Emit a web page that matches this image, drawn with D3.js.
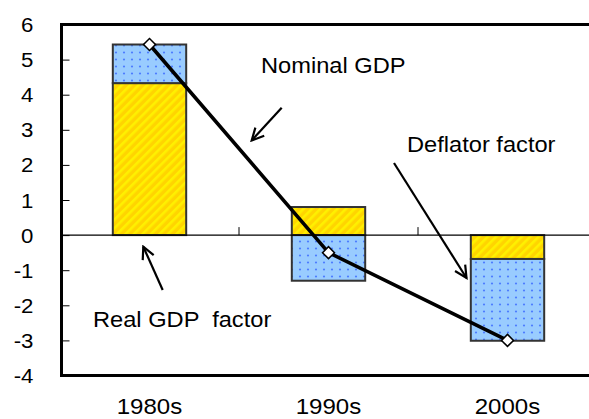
<!DOCTYPE html>
<html><head><meta charset="utf-8">
<script src="https://cdn.jsdelivr.net/npm/d3@7"></script>
<style>
body{margin:0;background:#fff}
svg{display:block}
text{font-family:"Liberation Sans",Arial,sans-serif;fill:#000}
</style>
</head><body><svg id="c" width="589" height="419"></svg>
<script>
// ---- data ----
const categories = ["1980s", "1990s", "2000s"];
const realGDP    = [4.33, 0.80, -0.68];   // Real GDP factor
const deflator   = [1.10, -1.30, -2.33];  // Deflator factor
const nominalGDP = [5.43, -0.50, -3.00];  // Nominal GDP
const yTicks     = [-4, -3, -2, -1, 0, 1, 2, 3, 4, 5, 6];

// ---- layout ----
const svg = d3.select("#c");
const L = 61.5, R = 598, T = 24.5, B = 375.5;
const x = d3.scaleBand().domain(categories).range([60, 597]).padding(0);
const y = d3.scaleLinear().domain([-4, 6]).range([B, T]);
const barW = x.bandwidth() * 0.41;
const cx = c => x(c) + x.bandwidth() / 2;

// ---- patterns ----
const defs = svg.append("defs");
const py = defs.append("pattern").attr("id", "yel").attr("patternUnits", "userSpaceOnUse")
  .attr("width", 6).attr("height", 6).attr("patternTransform", "rotate(45)");
py.append("rect").attr("width", 6).attr("height", 6).attr("fill", "#FFD500");
py.append("rect").attr("x", 1).attr("width", 2.6).attr("height", 6).attr("fill", "#FFF000");
const pb = defs.append("pattern").attr("id", "blu").attr("patternUnits", "userSpaceOnUse")
  .attr("width", 8).attr("height", 7);
pb.append("rect").attr("width", 8).attr("height", 7).attr("fill", "#99CCFF");
pb.append("circle").attr("cx", 4).attr("cy", 3.5).attr("r", 1.1).attr("fill", "#4D7DFF");
defs.append("marker").attr("id", "arr").attr("markerUnits", "userSpaceOnUse")
  .attr("viewBox", "-14 -8 16 16").attr("refX", 0).attr("refY", 0)
  .attr("markerWidth", 16).attr("markerHeight", 16).attr("orient", "auto")
  .append("path").attr("d", "M-12,-6 L0,0 L-12,6").attr("fill", "none")
  .attr("stroke", "#000").attr("stroke-width", 2.2);

// ---- left axis ticks (inward) ----
const ax = svg.append("g").attr("transform", `translate(${L},0)`)
  .call(d3.axisLeft(y).tickValues(yTicks).tickSize(-8).tickFormat(""));
ax.select(".domain").remove();
ax.selectAll("line").attr("stroke", "#000").attr("stroke-width", 1);

// y tick labels
svg.append("g").selectAll("text").data(yTicks).join("text")
  .attr("transform", d => `translate(33.5,${y(d)}) scale(1.06,1)`)
  .attr("text-anchor", "end").attr("dy", "0.36em")
  .style("font-size", "21px").text(d => d);

// ---- stacked bars ----
const rows = categories.map((c, i) => ({ cat: c, real: realGDP[i], defl: deflator[i] }));
const stacked = d3.stack().keys(["real", "defl"]).offset(d3.stackOffsetDiverging)(rows);
const fills = { real: "url(#yel)", defl: "url(#blu)" };
svg.append("g").selectAll("g").data(stacked).join("g")
  .attr("fill", d => fills[d.key])
  .selectAll("rect").data(d => d).join("rect")
  .attr("x", d => cx(d.data.cat) - barW / 2)
  .attr("width", barW)
  .attr("y", d => y(Math.max(d[0], d[1])))
  .attr("height", d => Math.abs(y(d[0]) - y(d[1])))
  .attr("stroke", "#333").attr("stroke-width", 2);

// zero line
svg.append("line").attr("x1", L).attr("x2", 589).attr("y1", y(0)).attr("y2", y(0))
  .attr("stroke", "#000").attr("stroke-width", 1.2);
// category separator ticks
svg.append("g").selectAll("line").data(categories.slice(0, 2)).join("line")
  .attr("x1", c => x(c) + x.bandwidth()).attr("x2", c => x(c) + x.bandwidth())
  .attr("y1", y(0)).attr("y2", y(0) - 8).attr("stroke", "#000").attr("stroke-width", 1);

// ---- frame ----
svg.append("path").attr("d", `M${R},${T} H${L} V${B} H${R}`)
  .attr("fill", "none").attr("stroke", "#000").attr("stroke-width", 3);

// ---- nominal GDP line ----
const line = d3.line().x((d, i) => cx(categories[i])).y(d => y(d));
svg.append("path").attr("d", line(nominalGDP)).attr("fill", "none")
  .attr("stroke", "#000").attr("stroke-width", 3.6);
svg.append("g").selectAll("path").data(nominalGDP).join("path")
  .attr("d", d3.symbol(d3.symbolSquare, 72))
  .attr("transform", (d, i) => `translate(${cx(categories[i])},${y(d)}) rotate(45)`)
  .attr("fill", "#fff").attr("stroke", "#000").attr("stroke-width", 1.5);

// ---- x labels ----
svg.append("g").selectAll("text").data(categories).join("text")
  .attr("transform", c => `translate(${cx(c)},414) scale(1.12,1)`)
  .attr("text-anchor", "middle").style("font-size", "21.5px").text(c => c);

// ---- annotations ----
const notes = [
  { t: "Nominal GDP", x: 261, y: 72.5 },
  { t: "Deflator factor", x: 407, y: 151.5 },
  { t: "Real GDP  factor", x: 93, y: 326.5 }
];
svg.append("g").selectAll("text").data(notes).join("text")
  .attr("transform", d => `translate(${d.x},${d.y}) scale(1.1,1)`)
  .style("font-size", "21.5px").style("white-space", "pre").text(d => d.t);

const arrows = [
  [281.7, 107.7, 251.7, 140.5],
  [394, 163, 466.5, 278],
  [162.7, 290, 143.3, 246.7]
];
svg.append("g").selectAll("line").data(arrows).join("line")
  .attr("x1", d => d[0]).attr("y1", d => d[1]).attr("x2", d => d[2]).attr("y2", d => d[3])
  .attr("stroke", "#000").attr("stroke-width", 2.2).attr("marker-end", "url(#arr)");
</script>
</body></html>
